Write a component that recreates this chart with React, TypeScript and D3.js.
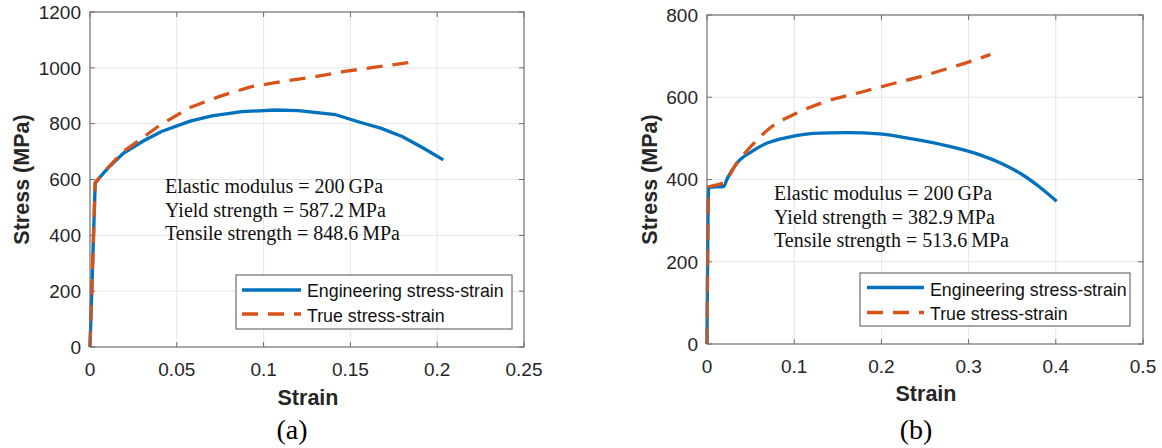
import React from "react";
import * as d3 from "d3";

// ---------- Data ----------
// Panel (a)
const engA: [number, number][] = [
  [0, 0], [0.003, 587], [0.006, 610], [0.0102, 640], [0.0192, 694], [0.0307, 738],
  [0.0412, 772], [0.0577, 809], [0.0702, 828], [0.0875, 843], [0.1065, 849],
  [0.12, 847], [0.1415, 832], [0.1555, 805], [0.1674, 784], [0.1798, 754],
  [0.1922, 712], [0.2035, 670],
];
const trueA: [number, number][] = [
  [0, 0], [0.003, 589], [0.0102, 642], [0.0192, 700], [0.0309, 752], [0.0403, 795],
  [0.0577, 858], [0.0743, 897], [0.0925, 932], [0.1105, 951], [0.128, 967],
  [0.1466, 987], [0.1673, 1005], [0.187, 1022],
];
// Panel (b)
const engB: [number, number][] = [
  [0, 0], [0.0019, 381], [0.019, 383], [0.0234, 403], [0.034, 439], [0.0512, 468],
  [0.0683, 488], [0.094, 503], [0.122, 512], [0.16, 514], [0.198, 511],
  [0.237, 498], [0.275, 482], [0.313, 460], [0.3378, 439], [0.36, 414],
  [0.3807, 383], [0.401, 347],
];
const trueB: [number, number][] = [
  [0, 0], [0.0019, 382], [0.0168, 390], [0.019, 392], [0.034, 439], [0.052, 484],
  [0.0726, 526], [0.1025, 561], [0.1368, 590], [0.1796, 614], [0.2095, 631],
  [0.248, 652], [0.2822, 674], [0.305, 689], [0.325, 704],
];

const xTicksA = [0, 0.05, 0.1, 0.15, 0.2, 0.25];
const yTicksA = [0, 200, 400, 600, 800, 1000, 1200];
const xTicksB = [0, 0.1, 0.2, 0.3, 0.4, 0.5];
const yTicksB = [0, 200, 400, 600, 800];

const notesA = ["Elastic modulus = 200\u2009GPa", "Yield strength = 587.2\u2009MPa", "Tensile strength = 848.6\u2009MPa"];
const notesB = ["Elastic modulus = 200\u2009GPa", "Yield strength = 382.9\u2009MPa", "Tensile strength = 513.6\u2009MPa"];
const legendLabels = ["Engineering stress-strain", "True stress-strain"];

const BLUE = "#0072BD";
const RED = "#D95319";
const SANS = "Arial, 'Liberation Sans', sans-serif";
const SERIF = "'Times New Roman', 'Liberation Serif', serif";
const DASH = "16,10";

type PanelProps = {
  left: number; right: number; top: number; bottom: number;
  xMax: number; yMax: number; xTicks: number[]; yTicks: number[];
  eng: [number, number][]; tru: [number, number][]; smooth: boolean;
  notes: string[]; noteX: number; noteY0: number;
  legend: { x0: number; y0: number; x1: number; y1: number; lineX0: number; lineX1: number; textX: number; ly: number[]; tb: number[] };
  xLabelX: number; xLabelY: number; yLabelX: number; tickLabelY: number; tickLabelRight: number;
  tag: string; tagX: number;
};

function Panel(p: PanelProps) {
  const x = d3.scaleLinear().domain([0, p.xMax]).range([p.left, p.right]);
  const y = d3.scaleLinear().domain([0, p.yMax]).range([p.bottom, p.top]);
  const line = d3
    .line<[number, number]>()
    .x((d) => x(d[0]))
    .y((d) => y(d[1]))
    .curve(p.smooth ? d3.curveMonotoneX : d3.curveLinear);
  const axisColor = "#6e6e6e";
  const tickColor = "#262626";
  return (
    <g>
      {p.xTicks.slice(1, -1).map((t) => (
        <line key={"gx" + t} x1={x(t)} x2={x(t)} y1={p.top} y2={p.bottom} stroke="#e6e6e6" strokeWidth={1} />
      ))}
      {p.yTicks.slice(1, -1).map((t) => (
        <line key={"gy" + t} x1={p.left} x2={p.right} y1={y(t)} y2={y(t)} stroke="#e6e6e6" strokeWidth={1} />
      ))}
      {p.xTicks.map((t) => (
        <g key={"tx" + t}>
          <line x1={x(t)} x2={x(t)} y1={p.bottom} y2={p.bottom - 5} stroke={axisColor} />
          <line x1={x(t)} x2={x(t)} y1={p.top} y2={p.top + 5} stroke={axisColor} />
          <text x={x(t)} y={p.tickLabelY} textAnchor="middle" fontFamily={SANS} fontSize={19} fill={tickColor}>
            {String(t)}
          </text>
        </g>
      ))}
      {p.yTicks.map((t) => (
        <g key={"ty" + t}>
          <line x1={p.left} x2={p.left + 5} y1={y(t)} y2={y(t)} stroke={axisColor} />
          <line x1={p.right} x2={p.right - 5} y1={y(t)} y2={y(t)} stroke={axisColor} />
          <text x={p.tickLabelRight} y={y(t) + 6.8} textAnchor="end" fontFamily={SANS} fontSize={19} fill={tickColor}>
            {String(t)}
          </text>
        </g>
      ))}
      <path d={line(p.eng) ?? ""} fill="none" stroke={BLUE} strokeWidth={3.3} strokeLinejoin="round" />
      <path d={line(p.tru) ?? ""} fill="none" stroke={RED} strokeWidth={3.3} strokeDasharray={DASH} strokeLinejoin="round" />
      <rect x={p.left} y={p.top} width={p.right - p.left} height={p.bottom - p.top} fill="none" stroke={axisColor} strokeWidth={1.2} />
      {p.notes.map((n, i) => (
        <text key={n} x={p.noteX} y={p.noteY0 + i * 23.5} fontFamily={SERIF} fontSize={20} fill="#111">
          {n}
        </text>
      ))}
      <rect x={p.legend.x0} y={p.legend.y0} width={p.legend.x1 - p.legend.x0} height={p.legend.y1 - p.legend.y0} fill="#fff" stroke={axisColor} strokeWidth={1.2} />
      <line x1={p.legend.lineX0} x2={p.legend.lineX1} y1={p.legend.ly[0]} y2={p.legend.ly[0]} stroke={BLUE} strokeWidth={3.3} />
      <line x1={p.legend.lineX0} x2={p.legend.lineX1} y1={p.legend.ly[1]} y2={p.legend.ly[1]} stroke={RED} strokeWidth={3.3} strokeDasharray={DASH} />
      {legendLabels.map((l, i) => (
        <text key={l} x={p.legend.textX} y={p.legend.tb[i]} fontFamily={SANS} fontSize={17.8} fill="#111">
          {l}
        </text>
      ))}
      <text x={p.xLabelX} y={p.xLabelY} textAnchor="middle" fontFamily={SANS} fontWeight="bold" fontSize={21.5} fill={tickColor}>
        Strain
      </text>
      <text
        transform={`translate(${p.yLabelX},${(p.top + p.bottom) / 2}) rotate(-90)`}
        textAnchor="middle"
        fontFamily={SANS}
        fontWeight="bold"
        fontSize={21.5}
        fill={tickColor}
      >
        Stress (MPa)
      </text>
      <text x={p.tagX} y={439} textAnchor="middle" fontFamily={SERIF} fontSize={28} fill="#000">
        {p.tag}
      </text>
    </g>
  );
}

export default function App() {
  return (
    <svg width={1162} height={448} style={{ position: "absolute", left: 0, top: 0, background: "#fff" }}>
      <rect width={1162} height={448} fill="#fff" />
      <Panel
        left={90} right={524} top={12} bottom={347}
        xMax={0.25} yMax={1200} xTicks={xTicksA} yTicks={yTicksA}
        eng={engA} tru={trueA} smooth={false}
        notes={notesA} noteX={165} noteY0={193}
        legend={{ x0: 236, y0: 275, x1: 512, y1: 329, lineX0: 242, lineX1: 301, textX: 307, ly: [290, 314], tb: [297, 321.5] }}
        xLabelX={308} xLabelY={405} yLabelX={29} tickLabelY={376} tickLabelRight={81}
        tag="(a)" tagX={292}
      />
      <Panel
        left={707} right={1143} top={15} bottom={344}
        xMax={0.5} yMax={800} xTicks={xTicksB} yTicks={yTicksB}
        eng={engB} tru={trueB} smooth={true}
        notes={notesB} noteX={774} noteY0={200}
        legend={{ x0: 860, y0: 273, x1: 1130, y1: 326, lineX0: 867, lineX1: 924, textX: 930, ly: [287.5, 312.5], tb: [295.5, 320] }}
        xLabelX={926} xLabelY={401} yLabelX={657} tickLabelY={373} tickLabelRight={698}
        tag="(b)" tagX={916}
      />
    </svg>
  );
}
